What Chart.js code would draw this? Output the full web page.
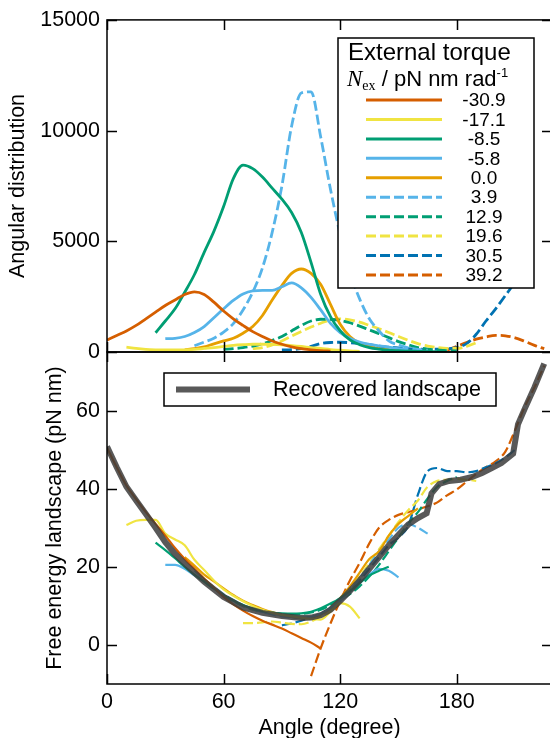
<!DOCTYPE html>
<html>
<head>
<meta charset="utf-8">
<script src="https://cdn.jsdelivr.net/npm/chart.js@4.4.1/dist/chart.umd.min.js"></script>
<style>
  html, body { margin: 0; padding: 0; background: #fff; overflow: hidden; }
  #wrap { position: relative; width: 550px; height: 738px; overflow: hidden; }
  #wrap canvas { position: absolute; left: 0; top: 0; }
</style>
</head>
<body>
<div id="wrap">
  <canvas id="distChart" width="552" height="738"></canvas>
  <canvas id="energyChart" width="552" height="738"></canvas>
</div>
<script>
// Tick labels
const angleTicks = [0, 60, 120, 180];
const distTicks = [0, 5000, 10000, 15000];
const energyTicks = [0, 20, 40, 60];

// External torque N_ex (pN nm rad-1), one legend entry per run
const torques = ['-30.9', '-17.1', '-8.5', '-5.8', '0.0', '3.9', '12.9', '19.6', '30.5', '39.2'];

// Curves are sampled every 5 degrees, starting at the angle given below
const angleStep = 5;

// Angular distribution (top panel)
const distStart = [0, 10, 25, 30, 40, 45, 60, 75, 90, 175];
const dist_m30_9 = [540, 750, 950, 1200, 1500, 1800, 2100, 2350, 2600, 2720, 2600, 2250, 1850, 1500, 1200, 920, 700, 500, 350, 230, 150, 100, 60, 40];
const dist_m17_1 = [220, 160, 120, 100, 90, 90, 100, 120, 160, 200, 250, 300, 330, 350, 350, 340, 320, 290, 250, 200, 160, 110, 80, 50, 30];
const dist_m8_5 = [870, 1400, 1950, 2700, 3500, 4500, 5450, 6570, 7830, 8440, 8280, 7900, 7400, 6900, 6300, 5400, 4050, 2600, 1600, 960, 550, 330, 200, 130, 80, 60, 40, 30, 20, 15, 10];
const dist_m5_8 = [600, 620, 700, 880, 1150, 1550, 1950, 2330, 2620, 2760, 2780, 2780, 2950, 3120, 2900, 2470, 1900, 1290, 880, 620, 450, 350, 280, 220, 150, 100];
const dist_0_0 = [100, 150, 230, 370, 500, 620, 850, 1150, 1650, 2350, 3000, 3550, 3750, 3550, 3050, 2150, 1250, 700, 400, 250, 150, 100, 60, 40, 20];
const dist_3_9 = [280, 450, 620, 900, 1280, 1900, 2700, 3800, 5400, 7500, 10200, 11700, 11750, 9700, 7350, 5300, 3600, 2400, 1500, 950, 500, 320, 190, 120, 80];
const dist_12_9 = [120, 150, 200, 270, 370, 520, 700, 950, 1200, 1400, 1480, 1470, 1430, 1320, 1170, 1000, 830, 650, 470, 330, 200, 130, 90, 60, 50];
const dist_19_6 = [150, 200, 320, 500, 720, 930, 1130, 1300, 1450, 1500, 1450, 1350, 1200, 1050, 880, 700, 530, 380, 270, 200, 160, 160, 250, 420];
const dist_30_5 = [90, 110, 150, 250, 380, 430, 440, 420, 380, 330, 260, 220, 180, 150, 130, 120, 130, 150, 200, 380, 800, 1400, 1950, 2550, 3150];
const dist_39_2 = [90, 250, 430, 580, 680, 750, 730, 640, 480, 300, 150];

// Free energy landscape (bottom panel)
const energyStart = [0, 10, 25, 30, 40, 45, 60, 70, 90, 105];
const energy_m30_9 = [50.5, 45.5, 40.8, 37.3, 34, 31, 28, 24.8, 22, 19.5, 17, 14.7, 12.3, 10.4, 8.8, 7.4, 6.2, 5.2, 4.2, 3, 1.8, 0.6, -0.9];
const energy_m17_1 = [30.7, 31.8, 32, 32, 28.5, 27, 25.5, 21.8, 19.2, 16.5, 14.2, 12.6, 11.2, 10, 9, 8.2, 7.7, 7.3, 7, 6.7, 6.5, 8.5, 10.7, 9.8, 6.8];
const energy_m8_5 = [26.2, 24.3, 22.2, 20, 18, 16.2, 14.4, 12.8, 11.4, 10.2, 9.3, 8.7, 8.3, 8.1, 8, 8.1, 8.5, 9.4, 10.6, 12, 13.8, 15.8, 17.8, 19, 20];
const energy_m5_8 = [20.5, 20.5, 19.5, 17.8, 16.3, 14.5, 12.8, 11.3, 10.1, 9.2, 8.5, 8, 7.6, 7.2, 7, 7.2, 8, 9.5, 11.3, 13.5, 15.8, 18, 19.5, 19, 17.3];
const energy_0_0 = [22.5, 20.3, 18, 16.3, 14.5, 12.8, 11.3, 10.2, 9.2, 8.4, 7.8, 7.2, 6.8, 7, 7.8, 9.5, 12, 15, 18.5, 22, 24, 28, 31, 33, 35];
const energy_3_9 = [19, 16.8, 14.8, 13, 11.5, 10.2, 9.2, 8.4, 7.8, 7.3, 7, 6.9, 7.1, 7.8, 9.3, 11.2, 13.8, 17, 20.5, 24, 27, 30, 31, 30, 28.5];
const energy_12_9 = [12.6, 11.2, 10, 9.1, 8.5, 8.1, 7.9, 7.8, 7.9, 8.3, 9, 10.2, 11.5, 13, 15, 17.5, 20.5, 24, 27.5, 31, 34, 37.5, 40.5, 42, 43];
const energy_19_6 = [5.6, 5.6, 5.8, 6, 5.7, 5.4, 5.3, 6, 7.3, 9.2, 11.5, 14.5, 17.5, 21, 24.5, 28, 31.5, 34.5, 37, 40.5, 42, 42.3, 42.5, 42.3, 42];
const energy_30_5 = [5, 5.5, 6.2, 7, 8, 9.5, 11.5, 14, 16.5, 19.5, 22.5, 25.5, 27.5, 30.5, 38.5, 44.5, 45.3, 44.5, 44.5, 44.2, 44.5, 45.5, 46.5, 48, 50];
const energy_39_2 = [-8, -0.8, 5.5, 11.3, 16.5, 21, 26, 30, 32, 33.3, 34, 34.7, 35.5, 36.5, 38.3, 39.8, 41.8, 43.8, 45.5, 47, 49.5, 55, 61, 66, 71.5];

// Recovered landscape
const recoveredAngle = [0, 5, 10, 15, 20, 25, 30, 35, 40, 45, 50, 60, 70, 80, 90, 100, 105, 110, 115, 120, 125, 130, 135, 140, 145, 150, 155, 160, 164.5, 167, 171, 176, 182, 188, 193, 198, 203, 209, 211.5, 215, 220, 225];
const recoveredEnergy = [50.8, 45.5, 40.5, 37, 33.5, 30, 26.3, 23.3, 20.8, 18.5, 16.2, 12.3, 9.6, 8.2, 7.4, 6.9, 7, 7.6, 9, 11.3, 13.8, 16.5, 19.5, 22.5, 25.5, 28.2, 30.8, 32.5, 33.7, 38.8, 41.2, 42, 42.3, 43, 44, 45.3, 46.6, 49, 56.5, 60.5, 66, 72];

const distSeries = [dist_m30_9, dist_m17_1, dist_m8_5, dist_m5_8, dist_0_0, dist_3_9, dist_12_9, dist_19_6, dist_30_5, dist_39_2];
const energySeries = [energy_m30_9, energy_m17_1, energy_m8_5, energy_m5_8, energy_0_0, energy_3_9, energy_12_9, energy_19_6, energy_30_5, energy_39_2];

// Styles
const lineColors = ['#D55E00', '#F0E442', '#009E73', '#56B4E9', '#E69F00', '#56B4E9', '#009E73', '#F0E442', '#0072B2', '#D55E00'];
const dashed = [false, false, false, false, false, true, true, true, true, true];
const SANS = "'Liberation Sans', Arial, Helvetica, sans-serif";
const SERIF = "'Liberation Serif', 'Times New Roman', serif";
const DASH = [10, 4];

function buildSet(label, start, values, i, width) {
  return {
    label: label,
    data: values.map((v, k) => ({ x: start + k * angleStep, y: v })),
    borderColor: lineColors[i],
    borderWidth: width,
    borderDash: dashed[i] ? DASH : [],
    pointRadius: 0,
    cubicInterpolationMode: 'monotone',
    fill: false
  };
}

// Black box around the plot with ticks pointing inwards on every side
const frameTicks = {
  id: 'frameTicks',
  afterDatasetsDraw(chart, args, opts) {
    const { ctx, chartArea: a } = chart;
    const xs = chart.scales.x, ys = chart.scales.y;
    ctx.save();
    ctx.strokeStyle = '#000';
    ctx.lineWidth = 1.5;
    ctx.setLineDash([]);
    ctx.strokeRect(a.left, a.top, a.right - a.left, a.bottom - a.top);
    ctx.beginPath();
    angleTicks.forEach(v => {
      const px = Math.round(xs.getPixelForValue(v)) + 0.5;
      ctx.moveTo(px, a.bottom); ctx.lineTo(px, a.bottom - 10);
      ctx.moveTo(px, a.top); ctx.lineTo(px, a.top + 10);
    });
    opts.yTicks.forEach(v => {
      const py = Math.round(ys.getPixelForValue(v)) + 0.5;
      ctx.moveTo(a.left, py); ctx.lineTo(a.left + 10, py);
      ctx.moveTo(a.right, py); ctx.lineTo(a.right - 10, py);
    });
    ctx.stroke();
    ctx.restore();
  }
};

// Legend box of the top panel
const torqueLegend = {
  id: 'torqueLegend',
  afterDraw(chart) {
    const ctx = chart.ctx;
    ctx.save();
    ctx.fillStyle = '#fff';
    ctx.fillRect(338, 38, 196, 250);
    ctx.strokeStyle = '#000';
    ctx.lineWidth = 1.5;
    ctx.strokeRect(338, 38, 196, 250);

    ctx.fillStyle = '#000';
    ctx.textBaseline = 'middle';
    ctx.textAlign = 'left';
    ctx.font = '24px ' + SANS;
    ctx.fillText('External torque', 348, 53);

    let x = 347;
    const y2 = 80;
    ctx.font = 'italic 23px ' + SERIF;
    ctx.fillText('N', x, y2);
    x += ctx.measureText('N').width;
    ctx.font = '14px ' + SERIF;
    ctx.fillText('ex', x, y2 + 6);
    x += ctx.measureText('ex').width;
    ctx.font = '22px ' + SANS;
    ctx.fillText(' / pN nm rad', x, y2);
    x += ctx.measureText(' / pN nm rad').width;
    ctx.font = '13px ' + SANS;
    ctx.fillText('-1', x, y2 - 7);

    chart.data.datasets.forEach((ds, i) => {
      const y = 100 + i * 19.44;
      ctx.strokeStyle = ds.borderColor;
      ctx.lineWidth = 3;
      ctx.setLineDash(ds.borderDash);
      ctx.beginPath();
      ctx.moveTo(366, y);
      ctx.lineTo(442, y);
      ctx.stroke();
      ctx.setLineDash([]);
      ctx.fillStyle = '#000';
      ctx.textAlign = 'center';
      ctx.font = '19px ' + SANS;
      ctx.fillText(ds.label, 484, y + 1);
    });
    ctx.restore();
  }
};

// Legend box of the bottom panel
const recoveredLegend = {
  id: 'recoveredLegend',
  afterDraw(chart) {
    const ctx = chart.ctx;
    const ds = chart.data.datasets[0];
    ctx.save();
    ctx.fillStyle = '#fff';
    ctx.fillRect(164, 373, 332, 33);
    ctx.strokeStyle = '#000';
    ctx.lineWidth = 1.5;
    ctx.strokeRect(164, 373, 332, 33);
    ctx.strokeStyle = ds.borderColor;
    ctx.lineWidth = ds.borderWidth;
    ctx.beginPath();
    ctx.moveTo(176, 389.5);
    ctx.lineTo(250, 389.5);
    ctx.stroke();
    ctx.fillStyle = '#000';
    ctx.font = '21.5px ' + SANS;
    ctx.textBaseline = 'middle';
    ctx.fillText(ds.label, 273, 390);
    ctx.restore();
  }
};

function tickFont() { return { family: SANS, size: 21.5 }; }

const distChart = new Chart(document.getElementById('distChart'), {
  type: 'line',
  data: {
    datasets: torques.map((t, i) => buildSet(t, distStart[i], distSeries[i], i, 2.8))
  },
  options: {
    responsive: false,
    animation: false,
    layout: { padding: { top: 19, bottom: 738 - 352, left: 0, right: 0 } },
    plugins: {
      legend: { display: false },
      tooltip: { enabled: false },
      frameTicks: { yTicks: distTicks }
    },
    scales: {
      x: { type: 'linear', min: 0, max: 229, display: false },
      y: {
        min: 0, max: 15000,
        afterFit: s => { s.width = 107; },
        afterBuildTicks: s => { s.ticks = distTicks.map(v => ({ value: v })); },
        grid: { display: false, drawTicks: false },
        border: { display: false },
        ticks: { padding: 7, color: '#000', font: tickFont(), callback: v => String(v) },
        title: { display: true, text: 'Angular distribution', color: '#000', font: tickFont(), padding: { top: 5, bottom: 0 } }
      }
    }
  },
  plugins: [frameTicks, torqueLegend]
});

const energyChart = new Chart(document.getElementById('energyChart'), {
  type: 'line',
  data: {
    datasets: [{
      label: 'Recovered landscape',
      data: recoveredAngle.map((a, k) => ({ x: a, y: recoveredEnergy[k] })),
      borderColor: 'rgba(60,60,60,0.85)',
      borderWidth: 6,
      pointRadius: 0,
      tension: 0,
      fill: false
    }].concat(torques.map((t, i) => buildSet(t, energyStart[i], energySeries[i], i, 2.2)))
  },
  options: {
    responsive: false,
    animation: false,
    layout: { padding: { top: 352, bottom: 0, left: 0, right: 0 } },
    plugins: {
      legend: { display: false },
      tooltip: { enabled: false },
      frameTicks: { yTicks: energyTicks }
    },
    scales: {
      x: {
        type: 'linear', min: 0, max: 229,
        afterFit: s => { s.height = 54; },
        afterBuildTicks: s => { s.ticks = angleTicks.map(v => ({ value: v })); },
        grid: { display: false, drawTicks: false },
        border: { display: false },
        ticks: { padding: 5, maxRotation: 0, color: '#000', font: tickFont(), callback: v => String(v) },
        title: { display: true, text: 'Angle (degree)', color: '#000', font: tickFont(), padding: { top: 0, bottom: -3 } }
      },
      y: {
        min: -10, max: 75,
        afterFit: s => { s.width = 107; },
        afterBuildTicks: s => { s.ticks = energyTicks.map(v => ({ value: v })); },
        grid: { display: false, drawTicks: false },
        border: { display: false },
        ticks: { padding: 7, color: '#000', font: tickFont(), callback: v => String(v) },
        title: { display: true, text: 'Free energy landscape (pN nm)', color: '#000', font: tickFont(), padding: { top: 42, bottom: 0 } }
      }
    }
  },
  plugins: [frameTicks, recoveredLegend]
});
</script>
</body>
</html>
